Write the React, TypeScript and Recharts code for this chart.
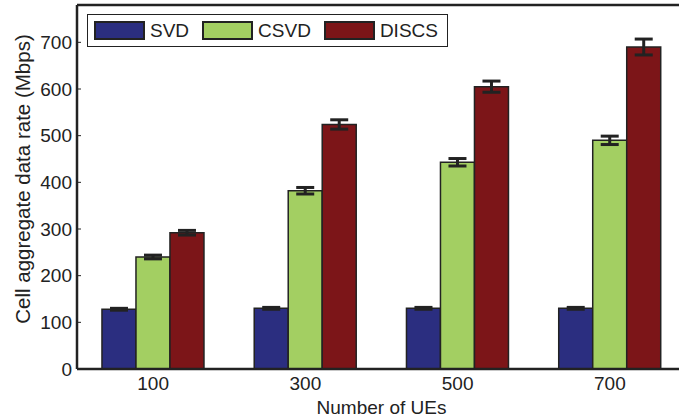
import {
  BarChart,
  Bar,
  XAxis,
  YAxis,
  ErrorBar,
  ReferenceLine
} from 'recharts';

const categories = ['100', '300', '500', '700'];
const svd = [128, 130, 130, 130];
const csvd = [240, 382, 443, 490];
const discs = [292, 524, 605, 690];
const svdErr = [2, 2, 2, 2];
const csvdErr = [4, 7, 8, 9];
const discsErr = [5, 10, 12, 17];
const yTicks = [0, 100, 200, 300, 400, 500, 600, 700];

const series = [
  { key: 'svd', name: 'SVD', color: '#2B2E80' },
  { key: 'csvd', name: 'CSVD', color: '#A3CF62' },
  { key: 'discs', name: 'DISCS', color: '#7C1518' }
];

const data = categories.map((c, i) => ({
  ues: c,
  svd: svd[i],
  svdErr: svdErr[i],
  csvd: csvd[i],
  csvdErr: csvdErr[i],
  discs: discs[i],
  discsErr: discsErr[i]
}));

const font = '"Liberation Sans", Arial, Helvetica, sans-serif';
const ink = '#222';

const YLabel = ({ viewBox }: any) => {
  const x = 22;
  const y = viewBox.y + viewBox.height / 2 - 8;
  return (
    <text
      x={x}
      y={y}
      transform={`rotate(-90 ${x} ${y})`}
      textAnchor="middle"
      dominantBaseline="central"
      fill={ink}
      fontSize={20.5}
      fontFamily={font}
    >
      Cell aggregate data rate (Mbps)
    </text>
  );
};

const LegendBox = () => (
  <div
    style={{
      position: 'absolute',
      left: 87,
      top: 14,
      width: 361,
      height: 33,
      boxSizing: 'border-box',
      border: `1.5px solid ${ink}`,
      background: '#fff',
      display: 'flex',
      alignItems: 'center',
      paddingLeft: 6,
      fontFamily: font,
      fontSize: 19,
      color: ink
    }}
  >
    {series.map((s) => (
      <div key={s.key} style={{ display: 'flex', alignItems: 'center', marginRight: 13 }}>
        <div
          style={{
            width: 51,
            height: 19,
            boxSizing: 'border-box',
            border: `2px solid ${ink}`,
            background: s.color,
            marginRight: 5
          }}
        />
        <span>{s.name}</span>
      </div>
    ))}
  </div>
);

const App = () => {
  return (
    <div
      style={{
        position: 'absolute',
        left: 0,
        top: 0,
        width: 679,
        height: 419,
        overflow: 'hidden',
        background: '#fff'
      }}
    >
      <BarChart
        width={700}
        height={419}
        data={data}
        margin={{ top: 5, right: 14, left: 0, bottom: 0 }}
        barCategoryGap="16.4%"
        barGap={0}
      >
        <XAxis
          dataKey="ues"
          height={50}
          axisLine={{ stroke: ink, strokeWidth: 2.5 }}
          tickLine={false}
          tickSize={0}
          tickMargin={8}
          tick={{ fill: ink, fontSize: 19, fontFamily: font }}
          label={{
            value: 'Number of UEs',
            position: 'insideBottom',
            offset: 5,
            fill: ink,
            fontSize: 19,
            fontFamily: font
          }}
        />
        <YAxis
          width={77}
          domain={[0, 780]}
          ticks={yTicks}
          interval={0}
          axisLine={{ stroke: ink, strokeWidth: 2.5 }}
          tickLine={{ stroke: ink, strokeWidth: 1 }}
          tickSize={-4}
          tickMargin={9}
          tick={{ fill: ink, fontSize: 19, fontFamily: font }}
          label={<YLabel />}
        />
        <ReferenceLine y={780} stroke={ink} strokeWidth={2.5} />
        {series.map((s) => (
          <Bar
            key={s.key}
            dataKey={s.key}
            name={s.name}
            fill={s.color}
            stroke={ink}
            strokeWidth={1.5}
            isAnimationActive={false}
          >
            <ErrorBar
              dataKey={`${s.key}Err`}
              width={9}
              stroke={ink}
              strokeWidth={3}
              direction="y"
            />
          </Bar>
        ))}
      </BarChart>
      <LegendBox />
    </div>
  );
};

export default App;
